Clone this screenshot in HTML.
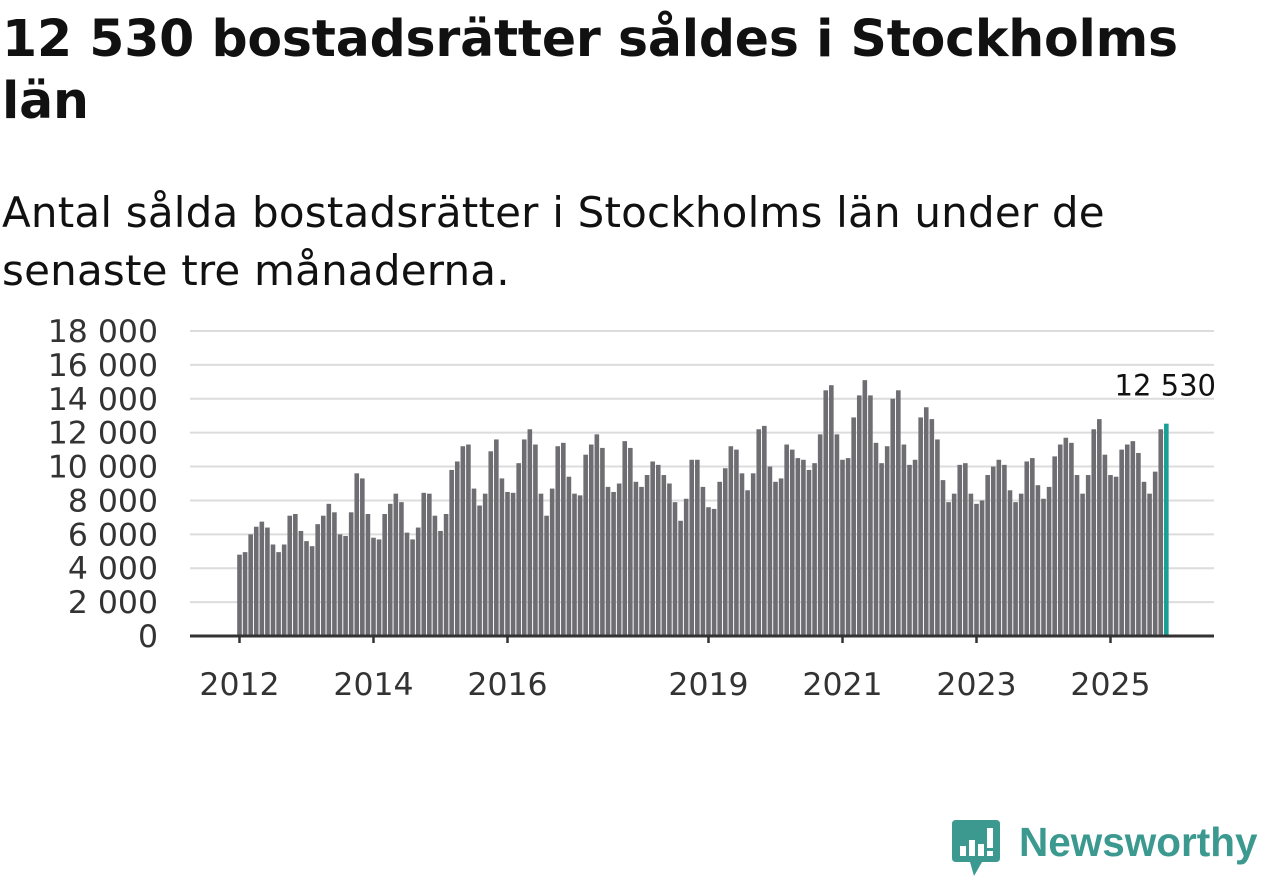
<!DOCTYPE html>
<html><head><meta charset="utf-8">
<style>
body{margin:0;width:1262px;height:879px;background:#fff;overflow:hidden;font-family:"DejaVu Sans","Liberation Sans",sans-serif;color:#111;}
#title{position:absolute;left:2px;top:8px;font-size:50.5px;font-weight:bold;line-height:62px;margin:0;letter-spacing:-0.2px;}
#sub{position:absolute;left:2px;top:184px;font-size:42px;line-height:58px;margin:0;letter-spacing:0.2px;}
svg{position:absolute;left:0;top:0;}
</style></head>
<body>
<h1 id="title">12 530 bostadsrätter såldes i Stockholms<br>län</h1>
<p id="sub">Antal sålda bostadsrätter i Stockholms län under de<br>senaste tre månaderna.</p>
<svg id="chart" width="1262" height="879"></svg>
<script>
const values2012=[4800,4950,6000,6450,6750,6400,5400,4950,5400,7100,7200,6200];
const values2013=[5600,5300,6600,7100,7800,7300,6000,5900,7300,9600,9300,7200];
const values2014=[5800,5700,7200,7800,8400,7900,6100,5700,6400,8450,8400,7100];
const values2015=[6200,7200,9800,10300,11200,11300,8700,7700,8400,10900,11600,9300];
const values2016=[8500,8450,10200,11600,12200,11300,8400,7100,8700,11200,11400,9400];
const values2017=[8400,8300,10700,11300,11900,11100,8800,8500,9000,11500,11100,9100];
const values2018=[8800,9500,10300,10100,9500,9000,7900,6800,8100,10400,10400,8800];
const values2019=[7600,7500,9100,9900,11200,11000,9600,8600,9600,12200,12400,10000];
const values2020=[9100,9300,11300,11000,10500,10400,9800,10200,11900,14500,14800,11900];
const values2021=[10400,10500,12900,14200,15100,14200,11400,10200,11200,14000,14500,11300];
const values2022=[10100,10400,12900,13500,12800,11600,9200,7900,8400,10100,10200,8400];
const values2023=[7800,8000,9500,10000,10400,10100,8600,7900,8400,10300,10500,8900];
const values2024=[8100,8800,10600,11300,11700,11400,9500,8400,9500,12200,12800,10700];
const values2025=[9500,9400,11000,11300,11500,10800,9100,8400,9700,12200,12530];
const startYear=2012;
const yTicks=[0,2000,4000,6000,8000,10000,12000,14000,16000,18000];
const xTickYears=[2012,2014,2016,2019,2021,2023,2025];
const values=[].concat(values2012,values2013,values2014,values2015,values2016,values2017,values2018,values2019,values2020,values2021,values2022,values2023,values2024,values2025);

const NS="http://www.w3.org/2000/svg";
const svg=document.getElementById('chart');
const y0=636,y1=331,yMax=18000;
const x0=239.5,perYear=67;
const ys=v=>y0-(v/yMax)*(y0-y1);
const xs=i=>x0+i*perYear/12;
const FF='DejaVu Sans, Liberation Sans, sans-serif';
function mk(t,a){const e=document.createElementNS(NS,t);for(const k in a)e.setAttribute(k,a[k]);svg.appendChild(e);return e;}
yTicks.forEach(t=>{
  if(t>0){const g=mk('line',{x1:190,x2:1214,y1:ys(t),y2:ys(t),stroke:'#dcdcdc','stroke-width':2});
  
  }
  const l=mk('text',{x:158,y:ys(t)+11,'text-anchor':'end','font-size':31.5,fill:'#333','font-family':FF});
  l.textContent=t===0?'0':(t/1000)+' 000';
  
  
});
values.forEach((v,i)=>{
  const last=i===values.length-1;
  const r=mk('rect',{x:xs(i)-2.3,y:ys(v),width:4.6,height:y0-ys(v),fill:last?'#1a9e96':'#6e6d72'});
  
  
});
const ax=mk('line',{x1:190,x2:1214,y1:y0,y2:y0,stroke:'#333','stroke-width':3});


xTickYears.forEach(yr=>{
  const x=xs((yr-startYear)*12);
  const tk=mk('line',{x1:x,x2:x,y1:y0,y2:y0+7,stroke:'#333','stroke-width':2.5});
  
  
  const l=mk('text',{x:x,y:695,'text-anchor':'middle','font-size':31.5,fill:'#333','font-family':FF});
  l.textContent=yr;
  
  
});
const li=values.length-1;
const vl=mk('text',{x:1216,y:ys(values[li])-28,'text-anchor':'end','font-size':29,fill:'#111','font-family':FF});
vl.textContent=values[li].toLocaleString('sv-SE').replace(/\s/g,' ');


</script>
<div style="position:absolute;left:952px;top:820px;display:flex;align-items:center;">
  <svg width="50" height="58" viewBox="0 0 50 58" style="position:static">
    <path d="M4 0H44Q48 0 48 4V38Q48 42 44 42H30L22 56L18 42H4Q0 42 0 38V4Q0 0 4 0Z" fill="#3c9990"/>
    <rect x="8" y="26" width="6" height="10" fill="#fff"/><rect x="17" y="20" width="6" height="16" fill="#fff"/>
    <rect x="26" y="24" width="6" height="12" fill="#fff"/><rect x="35" y="8" width="6" height="20" fill="#fff"/><rect x="35" y="31" width="6" height="5" fill="#fff"/>
  </svg>
  <span style="margin-left:17px;font-family:'Liberation Sans',sans-serif;font-size:40.5px;font-weight:bold;color:#3c9990;margin-top:-14px">Newsworthy</span>
</div>
</body></html>
